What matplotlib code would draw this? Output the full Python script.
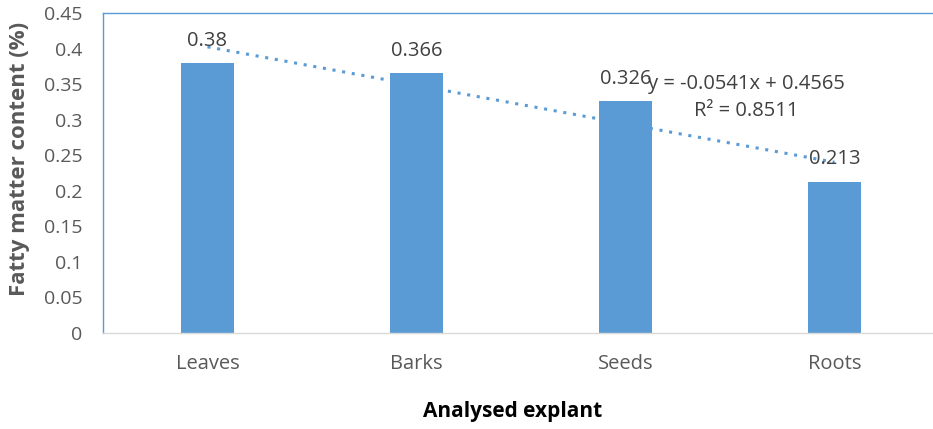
import matplotlib
matplotlib.use("Agg")
import matplotlib.pyplot as plt
import numpy as np

categories = ["Leaves", "Barks", "Seeds", "Roots"]
values = [0.38, 0.366, 0.326, 0.213]
value_labels = ["0.38", "0.366", "0.326", "0.213"]
yticks = [0, 0.05, 0.1, 0.15, 0.2, 0.25, 0.3, 0.35, 0.4, 0.45]
ytick_labels = ["0", "0.05", "0.1", "0.15", "0.2", "0.25", "0.3", "0.35", "0.4", "0.45"]
slope, intercept = -0.0541, 0.4565
eq_text = "y = -0.0541x + 0.4565\nR² = 0.8511"

plt.rcParams['font.family'] = ['Open Sans', 'DejaVu Sans']
txt = "#595959"
blue = "#5B9BD5"

fig = plt.figure(figsize=(9.33, 4.29), dpi=100)
W, H = 933, 429
left, right, top, bottom = 103, 939, 13, 333
ax = fig.add_axes([left / W, 1 - bottom / H, (right - left) / W, (bottom - top) / H])

x = np.arange(1, len(categories) + 1)
ax.bar(x, values, width=0.25, color=blue, zorder=2)
ax.set_xlim(0.5, len(categories) + 0.5)
ax.set_ylim(0, 0.45)

xt = np.array([1.0, 4.0])
ax.plot(xt, slope * xt + intercept, linestyle=(0, (1, 2.2)), color=blue, linewidth=2.2, zorder=3)

for xi, v, lab in zip(x, values, value_labels):
    ax.annotate(lab, (xi, v), xytext=(0, 16), textcoords="offset points",
                ha="center", va="center", fontsize=14.5, color="#404040", zorder=4)

ax.text(3.58, 0.331, eq_text, ha="center", va="center", fontsize=14.5,
        color="#404040", linespacing=1.5, zorder=4)

ax.set_yticks(yticks)
ax.set_yticklabels(ytick_labels, fontsize=14, color=txt)
ax.set_xticks(x)
ax.set_xticklabels(categories, fontsize=14.5, color=txt)
ax.tick_params(axis="y", length=0, pad=15)
ax.tick_params(axis="x", length=0, pad=15)

for s in ["top", "left", "right"]:
    ax.spines[s].set_color(blue)
    ax.spines[s].set_linewidth(1.0)
ax.spines["bottom"].set_color("#D9D9D9")
ax.spines["bottom"].set_linewidth(1.0)

fig.text(20 / W, 1 - 159 / H, "Fatty matter content (%)", rotation=90, ha="center", va="center",
         fontsize=16, fontweight="bold", color=txt)
fig.text(513 / W, 1 - 412 / H, "Analysed explant", ha="center", va="center",
         fontsize=15, fontweight="bold", color="#000000")

fig.savefig("out.png", dpi=100)
